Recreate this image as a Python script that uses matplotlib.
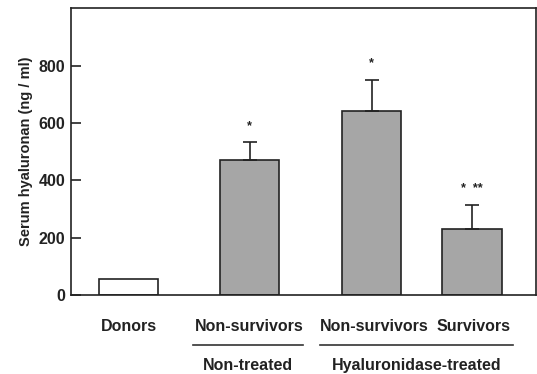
import matplotlib
matplotlib.use('Agg')
import matplotlib.pyplot as plt
from matplotlib.lines import Line2D

plt.rcParams['font.family'] = 'Liberation Sans'
plt.rcParams['font.weight'] = 'bold'
plt.rcParams['axes.labelweight'] = 'bold'

# serum hyaluronan by group
groups = ['Donors', 'Non-survivors', 'Non-survivors', 'Survivors']
positions = [0, 1, 2.01, 2.84]
hyaluronan = [55, 470, 643, 230]
sem = [0, 62, 108, 83]
marks = ['', '*', '*', '*  **']
fills = ['white', '#a6a6a6', '#a6a6a6', '#a6a6a6']

fig = plt.figure(figsize=(5.37, 3.74), dpi=100)
ax = fig.add_axes([0.132, 0.211, 0.866, 0.767])

ax.bar(positions, hyaluronan, width=0.49, color=fills, edgecolor='#222222', linewidth=1.2)
for x, v, e, m in zip(positions, hyaluronan, sem, marks):
    if e:
        ax.errorbar(x, v, yerr=[[0], [e]], fmt='none', ecolor='#222222',
                    elinewidth=1.2, capsize=5, capthick=1.2)
    if m:
        ax.text(x, v + e + 35, m, ha='center', va='bottom', fontsize=9, color='#222222')

ax.set_xlim(-0.48, 3.37)
ax.set_ylim(0, 1000)
ax.set_yticks([0, 200, 400, 600, 800])
ax.set_xticks([])
ax.tick_params(axis='y', direction='in', length=7, width=1.2, labelsize=11.5, colors='#222222', pad=4)
for s in ax.spines.values():
    s.set_linewidth(1.2)
    s.set_color('#222222')
ax.set_ylabel('Serum hyaluronan (ng / ml)', fontsize=10.5, color='#222222', labelpad=4)

trans = ax.get_xaxis_transform()
label_x = [0, 1, 2.03, 2.85]
for x, g in zip(label_x, groups):
    ax.text(x, -0.111, g, transform=trans, ha='center', va='center', fontsize=11.5, color='#222222')

# treatment brackets under the categories
for x0, x1, name in [(0.53, 1.44, 'Non-treated'), (1.58, 3.18, 'Hyaluronidase-treated')]:
    ax.add_line(Line2D([x0, x1], [-0.174, -0.174], transform=trans, color='#333333',
                       linewidth=1.2, clip_on=False))
    ax.text((x0 + x1) / 2, -0.244, name, transform=trans, ha='center', va='center',
            fontsize=11.5, color='#222222')

fig.savefig('out.png', dpi=100)
